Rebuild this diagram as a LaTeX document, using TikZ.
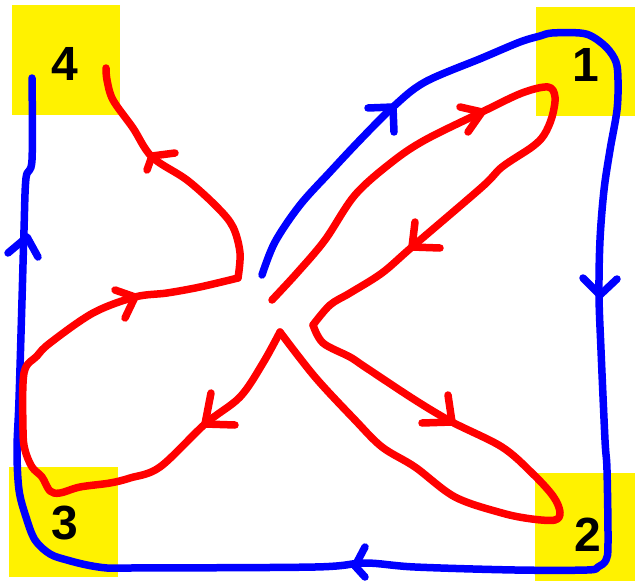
\documentclass[tikz,border=0pt]{standalone}
\usepackage{fontspec}
\setmainfont{Liberation Sans}
\begin{document}
\begin{tikzpicture}[x=1pt,y=-1pt,
  blueline/.style={draw=blue, line width=7.5pt, line cap=round, line join=round},
  redline/.style={draw=red, line width=7.5pt, line cap=round, line join=round},
  cornerbox/.style={fill=yellow, draw=none, inner sep=0pt, anchor=north west},
  digit/.style={font=\fontsize{48}{48}\selectfont\bfseries, text=black, inner sep=0pt}]
\useasboundingbox (0,0) rectangle (635,581);
% yellow corner squares
\node[cornerbox, minimum width=108pt, minimum height=110pt] (q4) at (12,5) {};
\node[cornerbox, minimum width=99pt, minimum height=109pt] (q1) at (536,7) {};
\node[cornerbox, minimum width=109pt, minimum height=110pt] (q3) at (9,467) {};
\node[cornerbox, minimum width=100pt, minimum height=108pt] (q2) at (535,473) {};
% digits
\node[digit] (n4) at (65,64) {4};
\node[digit] (n1) at (586,65) {1};
\node[digit] (n3) at (65,523) {3};
\node[digit] (n2) at (588,535) {2};
% blue loop
\draw[blueline] plot[smooth, tension=0.55] coordinates {(262,275) (275,242) (300,205) (330,172) (360,140) (393,107) (425,82) (482,58) (520,42) (540,36) (552,33) (580,33) (593,37) (607,48) (616,62) (618,80) (617,110) (610,150) (604,190) (600,240) (599,295) (601,350) (605,440) (607,470) (608,543) (606,560) (598,567) (587,570) (515,570) (415,567) (365,563) (315,567) (130,568) (107,568) (87,565) (67,560) (50,554) (35,540) (26,517) (19,490) (17,450) (19,400) (22,300) (24,230) (26,178) (32,160) (32,78)};
% blue arrowheads
\draw[blueline] (8,253) -- (27,237) -- (38,257);
\draw[blueline] (368,108) -- (393,107) -- (394,132);
\draw[blueline] (583,278) -- (600,295) -- (617,279);
\draw[blueline] (365,547) -- (355,566) -- (365,577);
% red path
\draw[redline] plot[smooth, tension=0.55] coordinates {(272,300) (297,273) (325,240) (355,195) (392,162) (425,140) (482,112) (522,93) (548,87) (555,97) (552,117) (544,135) (532,147) (502,167) (482,187) (412,247) (382,273) (350,293) (330,305) (313,325)};
\draw[redline] plot[smooth, tension=0.55] coordinates {(313,325) (323,343) (350,357) (365,367) (415,400) (452,422) (502,447) (532,473) (553,496) (560,512) (555,520) (532,519) (502,513) (455,497) (415,467) (382,447) (355,420) (315,377) (280,332)};
\draw[redline] plot[smooth, tension=0.55] coordinates {(280,332) (263,363) (240,397) (205,424) (160,467) (130,478) (110,483) (80,487) (60,493) (50,491) (42,477) (32,467) (25,450) (23,430) (24,373) (37,356) (50,343) (93,313) (135,297) (167,293) (200,287) (238,278)};
\draw[redline] plot[smooth, tension=0.55] coordinates {(238,278) (240,253) (233,227) (217,207) (187,180) (152,157) (133,128) (113,100) (107,80) (106,68)};
% red arrowheads
\draw[redline] (147,170) -- (152,156) -- (175,153);
\draw[redline] (115,290) -- (135,297) -- (125,318);
\draw[redline] (211,393) -- (205,424) -- (235,425);
\draw[redline] (448,395) -- (452,422) -- (422,423);
\draw[redline] (415,222) -- (412,247) -- (440,248);
\draw[redline] (460,107) -- (482,112) -- (468,132);
\end{tikzpicture}
\end{document}
